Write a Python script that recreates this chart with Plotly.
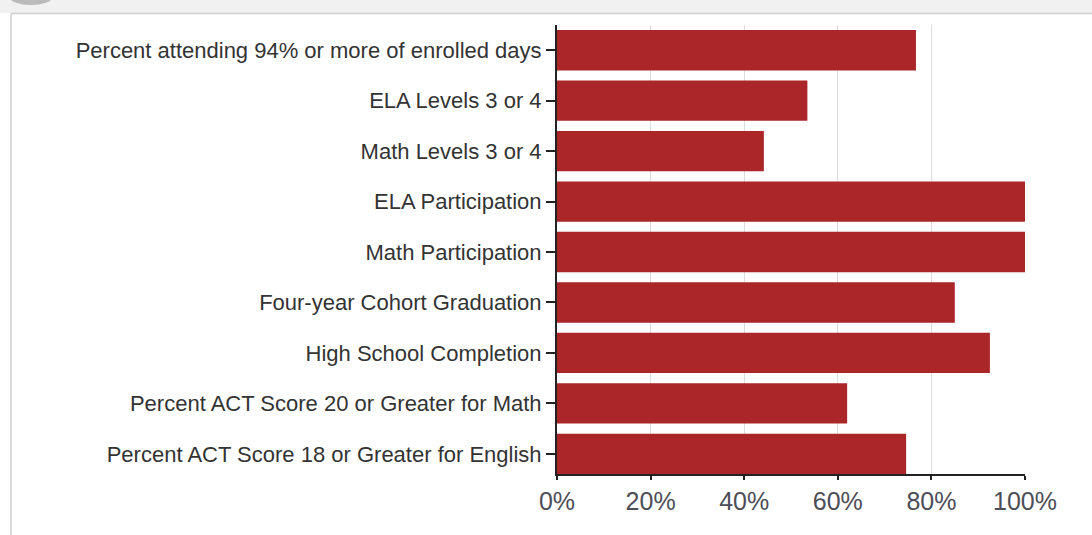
import plotly.graph_objects as go

categories = [
    "Percent attending 94% or more of enrolled days",
    "ELA Levels 3 or 4",
    "Math Levels 3 or 4",
    "ELA Participation",
    "Math Participation",
    "Four-year Cohort Graduation",
    "High School Completion",
    "Percent ACT Score 20 or Greater for Math",
    "Percent ACT Score 18 or Greater for English",
]
values = [76.7, 53.5, 44.2, 100, 100, 85.0, 92.5, 62.0, 74.6]
x_ticks = [0, 20, 40, 60, 80, 100]
x_tick_labels = ["0%", "20%", "40%", "60%", "80%", "100%"]

W, H = 1092, 535
L, R, T, B = 557, 1025, 25, 474  # plot area in pixels


def px(x):
    return (x - L) / (R - L)


def py(y):
    return (B - y) / (B - T)


fig = go.Figure(
    go.Bar(
        y=categories,
        x=values,
        orientation="h",
        marker=dict(color="#ab2629", line=dict(width=0)),
        hoverinfo="x+y",
    )
)

shapes = [
    # top gray strip
    dict(type="rect", xref="paper", yref="paper", x0=px(0), x1=px(W), y0=py(0), y1=py(13),
         fillcolor="#f1f1f1", line=dict(width=0), layer="below"),
    # top border line
    dict(type="line", xref="paper", yref="paper", x0=px(11), x1=px(W), y0=py(13.5), y1=py(13.5),
         line=dict(color="#cfcfcf", width=1.5)),
    # left border line
    dict(type="line", xref="paper", yref="paper", x0=px(11), x1=px(11), y0=py(13.5), y1=py(W),
         line=dict(color="#cfcfcf", width=1.5)),
    # small shadow blob at top-left
    dict(type="circle", xref="paper", yref="paper", x0=px(10), x1=px(52), y0=py(-10), y1=py(5),
         fillcolor="rgba(140,140,140,0.55)", line=dict(width=0)),
]

fig.update_layout(
    width=W,
    height=H,
    margin=dict(l=L, r=W - R, t=T, b=H - B, pad=0),
    paper_bgcolor="white",
    plot_bgcolor="white",
    showlegend=False,
    bargap=0.2,
    shapes=shapes,
    font=dict(family="Liberation Sans, Arial, sans-serif", color="#333333"),
    xaxis=dict(
        range=[0, 100],
        tickvals=x_ticks,
        ticktext=x_tick_labels,
        tickfont=dict(size=25, color="#4d4d57"),
        showgrid=True,
        gridcolor="#dddddd",
        gridwidth=1,
        zeroline=False,
        showline=True,
        linecolor="#222222",
        linewidth=2,
        ticks="outside",
        ticklen=4,
        tickcolor="#222222",
        tickwidth=1.5,
        fixedrange=True,
    ),
    yaxis=dict(
        type="category",
        categoryorder="array",
        categoryarray=categories,
        range=[8.4, -0.5],
        tickfont=dict(size=22, color="#333333"),
        showgrid=False,
        showline=True,
        linecolor="#222222",
        linewidth=2,
        ticks="outside",
        ticklen=9,
        tickcolor="#222222",
        tickwidth=1.5,
        fixedrange=True,
    ),
)

fig.write_html(
    "out.html",
    config={"displayModeBar": False},
    post_script="document.body.style.margin='0';document.body.style.overflow='hidden';",
)
